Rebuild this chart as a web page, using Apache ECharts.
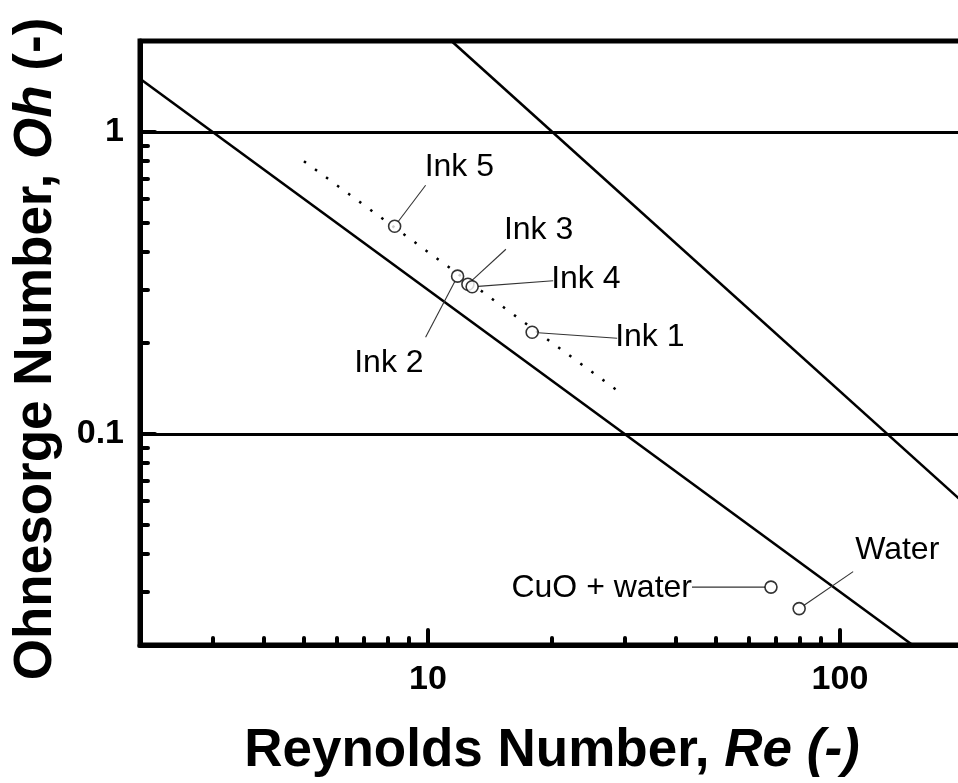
<!DOCTYPE html>
<html>
<head>
<meta charset="utf-8">
<script src="https://cdn.jsdelivr.net/npm/echarts@6/dist/echarts.min.js"></script>
<style>
  html, body { margin: 0; padding: 0; background: #fff; overflow: hidden; }
  #chart { width: 972px; height: 783px; }
</style>
</head>
<body>
<div id="chart"></div>
<script>
// Printable-ink region: Ohnesorge number vs Reynolds number (log-log)

// Measured inks
const inkNames = ['Ink 1', 'Ink 2', 'Ink 3', 'Ink 4', 'Ink 5'];
const inkRe = [17.9, 11.8, 12.5, 12.8, 8.3];
const inkOh = [0.217, 0.333, 0.313, 0.307, 0.487];

// Reference fluids
const fluidNames = ['CuO + water', 'Water'];
const fluidRe = [68, 79.6];
const fluidOh = [0.0311, 0.0264];

// Boundary lines of the printable region
const lowerBoundRe = [2, 150];
const lowerBoundOh = [1.5, 0.02];
const upperBoundRe = [11.4, 200];
const upperBoundOh = [2, 0.059];

// Trend through the inks
const trendRe = [5, 29.5];
const trendOh = [0.8, 0.136];

// Axis ticks
const reMajor = [10, 100];
const reMinor = [3, 4, 5, 6, 7, 8, 9, 20, 30, 40, 50, 60, 70, 80, 90];
const ohMajor = [0.1, 1];
const ohMinor = [0.03, 0.04, 0.05, 0.06, 0.07, 0.08, 0.09, 0.2, 0.3, 0.4, 0.5, 0.6, 0.7, 0.8, 0.9];

// Callouts, in pixels relative to each marker:
// text anchor [dx, dy, align] and leader end [lx, ly]
const calloutText = [
  [83, 5, 'left'],     // Ink 1
  [-34, 87, 'right'],  // Ink 2
  [36, -54, 'left'],   // Ink 3
  [79, -8, 'left'],    // Ink 4
  [30, -59, 'left'],   // Ink 5
  [-79, 1, 'right'],   // CuO + water
  [56, -58, 'left']    // Water
];
const calloutLeader = [
  [85, 6],    // Ink 1
  [-32, 61],  // Ink 2
  [38, -35],  // Ink 3
  [81, -6],   // Ink 4
  [31, -41],  // Ink 5
  [-79, 0],   // CuO + water
  [54, -37]   // Water
];

const FONT = "'Liberation Sans', Arial, Helvetica, sans-serif";
const MARKER = 12;

const zip = (xs, ys) => xs.map((x, i) => [x, ys[i]]);

const pointNames = inkNames.concat(fluidNames);
const pointValues = zip(inkRe.concat(fluidRe), inkOh.concat(fluidOh));
const pointData = pointValues.map((v, i) => ({ name: pointNames[i], value: v }));

const chart = echarts.init(document.getElementById('chart'), null, { renderer: 'canvas' });

const solidLine = { color: '#000', width: 2.6 };

// Leader line from the marker rim to the label, plus the label text
function renderCallout(params, api) {
  const i = params.dataIndex;
  const p = api.coord([api.value(0), api.value(1)]);
  const t = calloutText[i];
  const l = calloutLeader[i];
  const len = Math.hypot(l[0], l[1]);
  const r = MARKER / 2;
  const sx = p[0] + l[0] / len * r;
  const sy = p[1] + l[1] / len * r;
  return {
    type: 'group',
    children: [
      {
        type: 'line',
        shape: { x1: sx, y1: sy, x2: p[0] + l[0], y2: p[1] + l[1] },
        style: { stroke: '#333', lineWidth: 1.1 }
      },
      {
        type: 'text',
        style: {
          text: pointNames[i],
          x: p[0] + t[0], y: p[1] + t[1],
          align: t[2], verticalAlign: 'middle',
          fill: '#000', fontFamily: FONT, fontSize: 32
        }
      }
    ]
  };
}

chart.setOption({
  animation: false,
  backgroundColor: '#fff',
  // the plot frame runs a few pixels past the right edge of the page
  grid: {
    left: 140, right: 8, top: 41, bottom: 132,
    show: true, borderColor: '#000', borderWidth: 5, backgroundColor: 'transparent'
  },
  xAxis: [
    {
      type: 'log', logBase: 10, min: 2, max: 200, position: 'bottom',
      name: 'Reynolds Number, {i|Re (-)}',
      nameLocation: 'middle', nameGap: 80,
      nameTextStyle: {
        fontFamily: FONT, fontSize: 53, fontWeight: 'bold', color: '#000',
        rich: { i: { fontFamily: FONT, fontSize: 53, fontWeight: 'bold', fontStyle: 'italic', color: '#000' } }
      },
      axisLine: { show: true, lineStyle: { color: '#000', width: 5 } },
      axisTick: { show: true, inside: true, length: 15, customValues: reMajor,
                  lineStyle: { color: '#000', width: 4, cap: 'round' } },
      axisLabel: { show: true, customValues: reMajor, margin: 18,
                   fontFamily: FONT, fontSize: 34, fontWeight: 'bold', color: '#000' },
      splitLine: { show: false }
    },
    {
      type: 'log', logBase: 10, min: 2, max: 200, position: 'bottom',
      axisLine: { show: false },
      axisTick: { show: true, inside: true, length: 7, customValues: reMinor,
                  lineStyle: { color: '#000', width: 4, cap: 'round' } },
      axisLabel: { show: false },
      splitLine: { show: false }
    }
  ],
  yAxis: [
    {
      type: 'log', logBase: 10, min: 0.02, max: 2, position: 'left',
      name: 'Ohnesorge Number, {i|Oh} (-)',
      nameLocation: 'middle', nameGap: 77, nameRotate: 90,
      nameTextStyle: {
        fontFamily: FONT, fontSize: 53, fontWeight: 'bold', color: '#000',
        padding: [0, 12, 0, 0],
        rich: { i: { fontFamily: FONT, fontSize: 53, fontWeight: 'bold', fontStyle: 'italic', color: '#000' } }
      },
      axisLine: { show: true, lineStyle: { color: '#000', width: 5 } },
      axisTick: { show: true, inside: true, length: 15, customValues: ohMajor,
                  lineStyle: { color: '#000', width: 4, cap: 'round' } },
      axisLabel: { show: true, customValues: ohMajor, margin: 16,
                   fontFamily: FONT, fontSize: 34, fontWeight: 'bold', color: '#000' },
      splitLine: { show: true, lineStyle: { color: '#000', width: 3 } }
    },
    {
      type: 'log', logBase: 10, min: 0.02, max: 2, position: 'left',
      axisLine: { show: false },
      axisTick: { show: true, inside: true, length: 8, customValues: ohMinor,
                  lineStyle: { color: '#000', width: 4, cap: 'round' } },
      axisLabel: { show: false },
      splitLine: { show: false }
    }
  ],
  series: [
    {
      name: 'Lower bound', type: 'line', xAxisIndex: 0, yAxisIndex: 0,
      data: zip(lowerBoundRe, lowerBoundOh), symbol: 'none', lineStyle: solidLine, z: 3
    },
    {
      name: 'Upper bound', type: 'line', xAxisIndex: 0, yAxisIndex: 0,
      data: zip(upperBoundRe, upperBoundOh), symbol: 'none', lineStyle: solidLine, z: 3
    },
    {
      name: 'Ink trend', type: 'line', xAxisIndex: 0, yAxisIndex: 0,
      data: zip(trendRe, trendOh), symbol: 'none',
      lineStyle: { color: '#000', width: 2.5, type: [2.5, 11.2], cap: 'butt' }, z: 3
    },
    {
      name: 'Callouts', type: 'custom', xAxisIndex: 0, yAxisIndex: 0,
      coordinateSystem: 'cartesian2d',
      data: pointValues,
      renderItem: renderCallout,
      clip: false, silent: true, z: 4
    },
    {
      name: 'Fluids', type: 'scatter', xAxisIndex: 0, yAxisIndex: 0,
      data: pointData,
      symbol: 'circle', symbolSize: MARKER,
      itemStyle: { color: '#fff', borderColor: '#000', borderWidth: 1.6 },
      emphasis: { disabled: true },
      z: 5
    }
  ]
});
</script>
</body>
</html>
